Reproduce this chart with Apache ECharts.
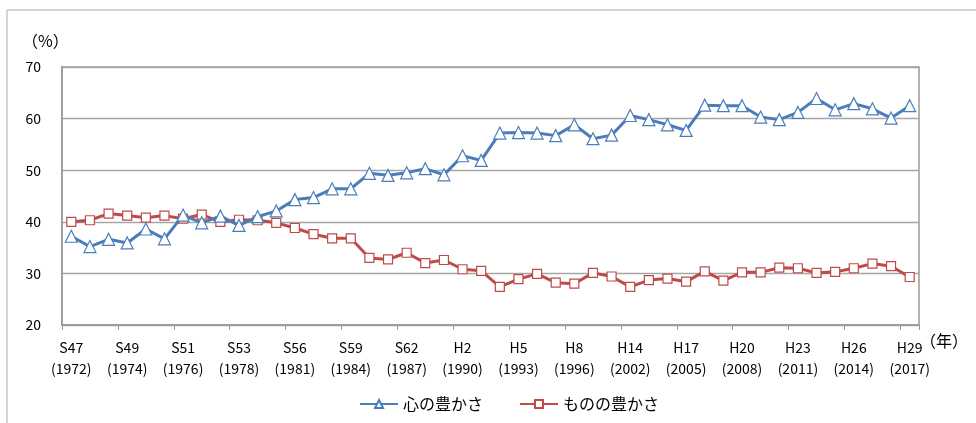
<!DOCTYPE html>
<html>
<head>
<meta charset="utf-8">
<script src="https://cdn.jsdelivr.net/npm/echarts@6/dist/echarts.min.js"></script>
<style>
  html, body { margin: 0; padding: 0; background: #fff; }
  #chart { width: 976px; height: 423px; }
</style>
</head>
<body>
<div id="chart"></div>
<script>
// 目盛りラベル（3調査ごと）
const tickLabels = [
  "S47\n(1972)", "S49\n(1974)", "S51\n(1976)", "S53\n(1978)", "S56\n(1981)", "S59\n(1984)",
  "S62\n(1987)", "H2\n(1990)", "H5\n(1993)", "H8\n(1996)", "H14\n(2002)", "H17\n(2005)",
  "H20\n(2008)", "H23\n(2011)", "H26\n(2014)", "H29\n(2017)"
]
// 調査回（46回）
const categories = []
for (let i = 0; i < 46; i++) {
  categories.push(i % 3 === 0 ? tickLabels[i / 3] : "")
}
// 心の豊かさ
const kokoro = [
  37.2, 35.2, 36.6, 35.9, 38.6, 36.7, 41.3, 39.8, 41.1, 39.3,
  41.0, 42.1, 44.3, 44.7, 46.4, 46.4, 49.4, 49.0, 49.5, 50.3,
  49.1, 52.8, 51.9, 57.2, 57.3, 57.2, 56.7, 58.8, 56.1, 56.8,
  60.6, 59.8, 58.8, 57.7, 62.6, 62.5, 62.5, 60.3, 59.8, 61.2,
  63.9, 61.7, 62.9, 61.9, 60.1, 62.5
]
// ものの豊かさ
const mono = [
  40.0, 40.3, 41.6, 41.2, 40.8, 41.2, 40.6, 41.4, 40.0, 40.4,
  40.3, 39.8, 38.8, 37.6, 36.8, 36.8, 33.0, 32.7, 34.0, 32.0,
  32.6, 30.8, 30.5, 27.4, 28.9, 29.9, 28.2, 28.0, 30.1, 29.4,
  27.4, 28.7, 29.0, 28.4, 30.4, 28.6, 30.2, 30.2, 31.1, 31.0,
  30.1, 30.3, 31.0, 31.9, 31.4, 29.3
]

const font = "'Noto Sans CJK JP', 'Noto Sans', sans-serif"
const chart = echarts.init(document.getElementById("chart"))
const options = {
  animation: false,
  textStyle: { fontFamily: font },
  grid: {
    left: 62,
    right: 57,
    top: 67,
    bottom: 98,
    show: true,
    borderColor: "#999",
    borderWidth: 1.5
  },
  legend: {
    left: 359,
    top: 396,
    padding: 0,
    itemWidth: 38,
    itemHeight: 10,
    itemGap: 36,
    textStyle: { fontFamily: font, fontSize: 16, color: "#000" },
    data: ["心の豊かさ", "ものの豊かさ"]
  },
  xAxis: {
    type: "category",
    data: categories,
    boundaryGap: true,
    axisLine: { lineStyle: { color: "#999", width: 1.5 } },
    axisTick: { show: true, interval: 2, length: 5, lineStyle: { color: "#999" } },
    axisLabel: {
      interval: 2,
      margin: 12,
      color: "#000",
      fontSize: 14,
      lineHeight: 21,
      fontFamily: font
    },
    splitLine: { show: false }
  },
  yAxis: {
    type: "value",
    min: 20,
    max: 70,
    interval: 10,
    axisLine: { show: true, lineStyle: { color: "#999", width: 1.5 } },
    axisTick: { show: false },
    axisLabel: { margin: 21, color: "#000", fontSize: 14, fontFamily: font },
    splitLine: { lineStyle: { color: "#a6a6a6", width: 1.3 } }
  },
  graphic: [
    { type: "line", shape: { x1: 7, y1: 10, x2: 976, y2: 10 }, style: { stroke: "#aaa", lineWidth: 1 } },
    { type: "line", shape: { x1: 7, y1: 10, x2: 7, y2: 423 }, style: { stroke: "#aaa", lineWidth: 1 } },
    {
      type: "text", left: 22, top: 33,
      style: { text: "（%）", fontSize: 16, fontFamily: font, fill: "#000" }
    },
    {
      type: "text", left: 920, top: 333,
      style: { text: "（年）", fontSize: 16, fontFamily: font, fill: "#000" }
    }
  ],
  series: [
    {
      name: "心の豊かさ",
      type: "line",
      data: kokoro,
      symbol: "triangle",
      symbolSize: 12,
      showAllSymbol: true,
      lineStyle: { color: "#4a7ebb", width: 3 },
      itemStyle: { color: "#fff", borderColor: "#4a7ebb", borderWidth: 1.2 },
      z: 3
    },
    {
      name: "ものの豊かさ",
      type: "line",
      data: mono,
      symbol: "rect",
      symbolSize: 9,
      showAllSymbol: true,
      lineStyle: { color: "#be4b48", width: 3 },
      itemStyle: { color: "#fff", borderColor: "#be4b48", borderWidth: 1.2 },
      z: 2
    }
  ]
}
chart.setOption(options)
</script>
</body>
</html>
